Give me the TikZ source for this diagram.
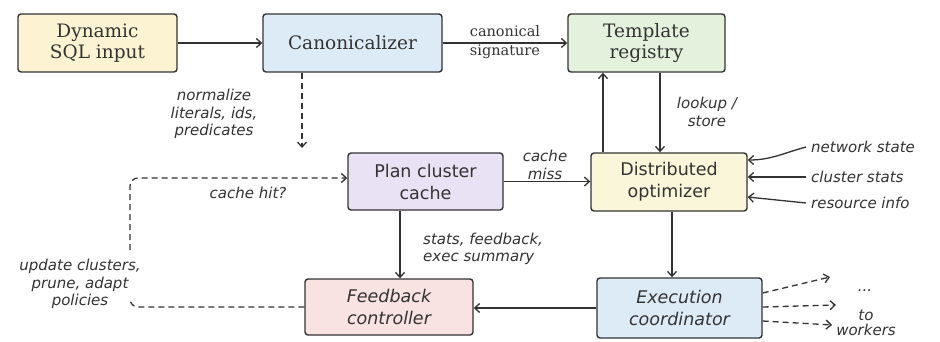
\documentclass[tikz,border=0pt]{standalone}
\usepackage{fontspec}
\newfontfamily\hand{DejaVu Sans}
\newfontfamily\serifface{DejaVu Serif}
\usetikzlibrary{arrows.meta,calc}
\definecolor{ink}{HTML}{333333}
\definecolor{cyel}{HTML}{FBF3D2}
\definecolor{cblu}{HTML}{DDEBF7}
\definecolor{cgrn}{HTML}{E4F1DC}
\definecolor{cpur}{HTML}{E9E1F4}
\definecolor{cyel2}{HTML}{FAF6D9}
\definecolor{cpnk}{HTML}{F8E2E2}
\tikzset{
  box/.style={draw=ink, line width=1.4pt, rounded corners=3pt, align=center, inner sep=2pt, text=ink},
  serifbox/.style={box, font=\serifface\fontsize{18.5}{21}\selectfont},
  handbox/.style={box, font=\hand\fontsize{17.5}{22}\selectfont},
  ihandbox/.style={box, font=\hand\itshape\fontsize{17.5}{22}\selectfont},
  arr/.style={draw=ink, line width=1.3pt, -{Straight Barb[length=5pt,width=9pt]}},
  darr/.style={arr, dashed, dash pattern=on 6pt off 4pt},
  dline/.style={draw=ink, line width=1.3pt, dash pattern=on 6pt off 4pt},
  note/.style={font=\hand\itshape\fontsize{15}{17.5}\selectfont, text=ink, align=center, inner sep=1pt},
  snote/.style={font=\serifface\fontsize{14.5}{19}\selectfont, text=ink, align=center, inner sep=1pt}
}
\begin{document}
\begin{tikzpicture}[x=1pt,y=-1pt]
\useasboundingbox[fill=white] (0,0) rectangle (940,341);
% boxes
\node[serifbox, fill=cyel, minimum width=159pt, minimum height=58pt] (sql) at (97.5,43) {Dynamic\\SQL input};
\node[serifbox, fill=cblu, minimum width=179pt, minimum height=58pt] (can) at (352.5,43) {Canonicalizer};
\node[serifbox, fill=cgrn, minimum width=157pt, minimum height=58pt] (tpl) at (646.5,43) {Template\\registry};
\node[handbox, fill=cpur, minimum width=155pt, minimum height=57pt] (plan) at (425.5,181.5) {Plan cluster\\cache};
\node[handbox, fill=cyel2, minimum width=156pt, minimum height=58pt] (opt) at (669,182) {Distributed\\optimizer};
\node[ihandbox, fill=cpnk, minimum width=168pt, minimum height=56pt] (fb) at (389,307) {Feedback\\controller};
\node[ihandbox, fill=cblu, minimum width=165pt, minimum height=60pt] (ex) at (679.5,308) {Execution\\coordinator};
% coordinates
\coordinate (cdn) at (302,148);
\coordinate (lb) at (130,307);
\coordinate (lm1) at (130,299);
\coordinate (lm2) at (130,250);
\coordinate (lt) at (130,178);
\coordinate (w1) at (830,277);
\coordinate (w2) at (836,305);
\coordinate (w3) at (832,325);
% connectors
\draw[arr] (sql) -- (can);
\draw[arr] (can) -- (tpl);
\draw[darr] ([xshift=-50.5pt]can.south) -- (cdn);
\draw[arr] ([xshift=-66pt]opt.north) -- ([xshift=-66pt]opt.north |- tpl.south);
\draw[arr] ([xshift=13.5pt]tpl.south) -- ([xshift=13.5pt]tpl.south |- opt.north);
\draw[arr] (plan.east) -- (opt.west |- plan.east);
\draw[arr] ([xshift=-25.5pt]plan.south) -- ([xshift=-25.5pt]plan.south |- fb.north);
\draw[arr] ([xshift=3pt]opt.south) -- ([xshift=3pt]opt.south |- ex.north);
\draw[arr] (ex.west) -- (fb.east |- ex.west);
\draw[dline, rounded corners=8pt] (fb.west) -- (lb) -- (lm1);
\draw[darr, rounded corners=8pt] (lm2) -- (lt) -- (plan.west |- lt);
% labels
\node[snote] (lcs) at (505,42) {canonical\\signature};
\node[note] (lnorm) at (214,114) {normalize\\literals, ids,\\predicates};
\node[note] (llook) at (707,112) {lookup /\\store};
\node[note] (lmiss) at (545,165) {cache\\miss};
\node[note, anchor=west, align=left] (lstats) at (422,249) {stats, feedback,\\exec summary};
\node[note] (lhit) at (248,193) {cache hit?};
\node[note] (lupd) at (80,284) {update clusters,\\prune, adapt\\policies};
\node[note, anchor=west] (lnet) at (810,147) {network state};
\node[note, anchor=west] (lcl) at (810,177) {cluster stats};
\node[note, anchor=west] (lres) at (810,203) {resource info};
\node[note] (ldots) at (865,291) {...};
\node[note, font=\hand\itshape\fontsize{15}{15}\selectfont] (lwork) at (866,323) {to\\workers};
\draw[arr] ([xshift=-4pt]lnet.west) to[out=195,in=0] ([yshift=22pt]opt.east);
\draw[arr] ([xshift=-4pt]lcl.west) -- (opt.east |- lcl.west);
\draw[arr] ([xshift=-4pt]lres.west) -- ([yshift=-15pt]opt.east);
\draw[darr] ([yshift=15pt]ex.east) -- (w1);
\draw[darr] ([yshift=1pt]ex.east) -- (w2);
\draw[darr] ([yshift=-13pt]ex.east) -- (w3);
\end{tikzpicture}
\end{document}
